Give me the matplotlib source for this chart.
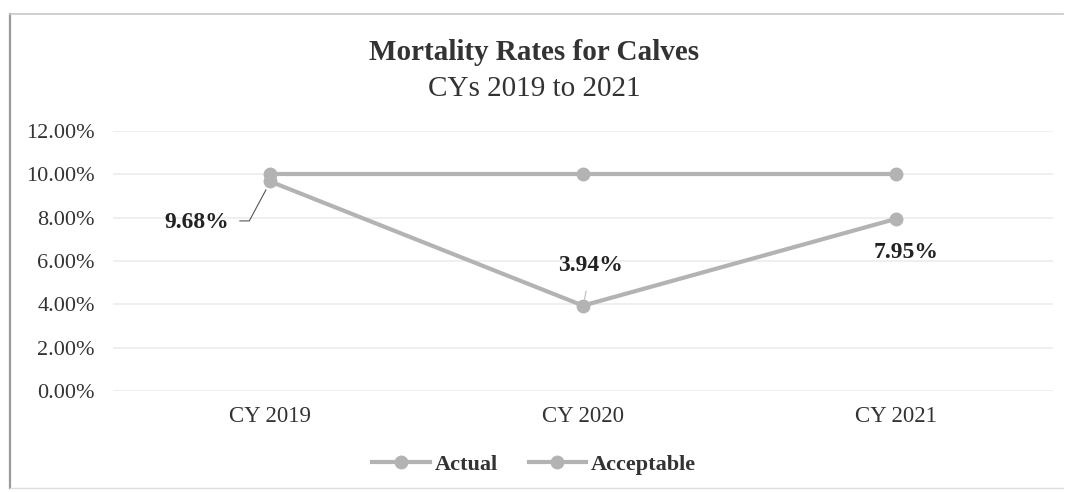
import matplotlib.pyplot as plt
from matplotlib.lines import Line2D
from matplotlib.ticker import PercentFormatter

years = ["CY 2019", "CY 2020", "CY 2021"]
actual = [9.68, 3.94, 7.95]
acceptable = [10.0, 10.0, 10.0]
yticks = [0, 2, 4, 6, 8, 10, 12]

plt.rcParams['font.family'] = ['Liberation Serif', 'DejaVu Serif']
gray = '#b3b3b3'

fig = plt.figure(figsize=(10.68, 4.92), dpi=100)

# outer chart frame
fig.add_artist(Line2D([0.0095, 0.0095], [0.008, 0.972], color='#9a9a9a', lw=1.6))
fig.add_artist(Line2D([0.0095, 0.995], [0.972, 0.972], color='#c8c8c8', lw=1.2))
fig.add_artist(Line2D([0.0095, 0.995], [0.008, 0.008], color='#dddddd', lw=1.0))

ax = fig.add_axes([113 / 1068, 101 / 492, 940 / 1068, 260 / 492])
x = [0.5, 1.5, 2.5]
ax.plot(x, acceptable, color=gray, lw=3, marker='o', ms=9, zorder=3)
ax.plot(x, actual, color=gray, lw=3, marker='o', ms=9, zorder=4)

ax.set_xlim(0, 3)
ax.set_ylim(0, 12)
ax.set_yticks(yticks)
ax.yaxis.set_major_formatter(PercentFormatter(decimals=2))
ax.set_xticks(x)
ax.set_xticklabels(years)
ax.tick_params(length=0, labelsize=16, colors='#333333', pad=11)
ax.tick_params(axis='x', labelsize=16.5)
ax.tick_params(axis='y', pad=13)
ax.grid(axis='y', color='#ececec', lw=1.2)
for s in ax.spines.values():
    s.set_visible(False)

# data labels, first one with a leader line down to its point
ax.text(x[0] - 0.13, 7.8, f"{actual[0]:.2f}%", ha='right', va='center',
        fontsize=17, fontweight='bold', color='#222222')
ax.plot([x[0] - 0.095, x[0] - 0.065, x[0] - 0.012],
        [7.85, 7.85, actual[0] - 0.4], color='#555555', lw=0.8, zorder=2)
ax.annotate(f"{actual[1]:.2f}%", xy=(x[1] + 0.005, actual[1] + 0.3),
            xytext=(x[1] + 0.025, 5.8), ha='center', va='center',
            fontsize=17, fontweight='bold', color='#222222',
            arrowprops=dict(arrowstyle='-', color='#bbbbbb', lw=0.8,
                            shrinkA=9, shrinkB=0))
ax.text(x[2] + 0.03, 6.4, f"{actual[2]:.2f}%", ha='center', va='center',
        fontsize=17, fontweight='bold', color='#222222')

fig.text(0.5, 0.893, "Mortality Rates for Calves", ha='center', va='center',
         fontsize=21, fontweight='bold', color='#333333')
fig.text(0.5, 0.82, "CYs 2019 to 2021", ha='center', va='center',
         fontsize=21, color='#333333')

handles = [Line2D([], [], color=gray, lw=3, marker='o', ms=9),
           Line2D([], [], color=gray, lw=3, marker='o', ms=9)]
leg = fig.legend(handles, ["Actual", "Acceptable"], loc='center',
                 bbox_to_anchor=(0.5, 0.055), ncol=2, frameon=False,
                 handlelength=2.6, columnspacing=1.4, handletextpad=0.2,
                 prop={'size': 16, 'weight': 'bold'})
for t in leg.get_texts():
    t.set_color('#333333')

fig.savefig('out.png', dpi=100)
